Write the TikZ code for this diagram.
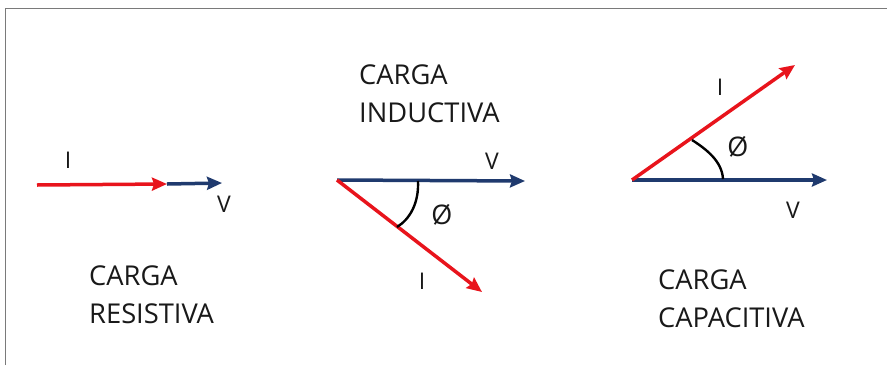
\documentclass[tikz,border=0pt]{standalone}
\usepackage{fontspec}
\setmainfont{Open Sans}
\usetikzlibrary{arrows.meta}
\definecolor{vred}{HTML}{E8141C}
\definecolor{vblue}{HTML}{1F3A6E}
\definecolor{frame}{HTML}{7A7A7A}
\tikzset{
  vec/.style={line width=3.5pt,-{Stealth[length=15pt,width=13pt,inset=2pt]}},
  ivec/.style={vec,vred},
  vvec/.style={vec,vblue},
  anglearc/.style={line width=2.4pt,black},
  lbl/.style={font=\fontsize{23}{23}\selectfont,inner sep=0pt,text=black!90},
  phi/.style={font=\fontsize{27}{27}\selectfont,inner sep=0pt,text=black!90},
  title/.style={font=\fontsize{27.3}{38}\selectfont,inner sep=0pt,anchor=base west,align=left,text=black!90}
}
\begin{document}
\begin{tikzpicture}[x=1pt,y=-1pt]
\useasboundingbox (0,0) rectangle (887,365);
\fill[white] (0,0) rectangle (887,365);
\draw[frame,line width=1.5pt] (5.5,365) -- (5.5,8.5) -- (887,8.5);

% resistive
\coordinate (rs) at (37,185);
\coordinate (rm) at (167,184);
\coordinate (rv) at (222,183);
\draw[vvec] (rm) -- (rv);
\draw[ivec] (rs) -- (rm);
\node[lbl] (rI) at (68,160) {I};
\node[lbl] (rV) at (224,204) {V};
\node[title] (rT) at (89,323) {CARGA\\RESISTIVA};

% inductive
\coordinate (io) at (337,180);
\coordinate (iv) at (525,181);
\coordinate (ii) at (482,292);
\draw[vvec] (io) -- (iv);
\draw[ivec] (io) -- (ii);
\coordinate (ia) at (418,181);
\coordinate (ib) at (397,227);
\draw[anglearc] (ia) .. controls (419,203) and (410,219) .. (ib);
\node[lbl] (iV) at (492,161) {V};
\node[phi] (iPhi) at (442,215) {Ø};
\node[lbl] (iI) at (422,281) {I};
\node[title] (iT) at (359,122) {CARGA\\INDUCTIVA};

% capacitive
\coordinate (co) at (632,180);
\coordinate (cv) at (827,180);
\coordinate (ci) at (795,65);
\draw[vvec] (co) -- (cv);
\draw[ivec] (co) -- (ci);
\coordinate (ca) at (692,140);
\coordinate (cb) at (723,179);
\draw[anglearc] (ca) .. controls (706,149) and (722,161) .. (cb);
\node[lbl] (cI) at (720,87) {I};
\node[phi] (cPhi) at (738,147) {Ø};
\node[lbl] (cV) at (793,210) {V};
\node[title] (cT) at (658,327) {CARGA\\CAPACITIVA};
\end{tikzpicture}
\end{document}
